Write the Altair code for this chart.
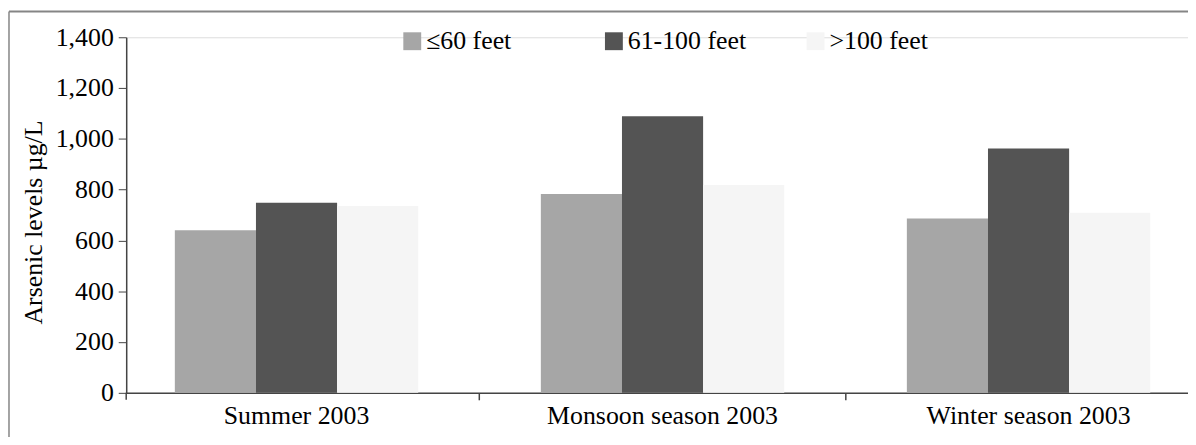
import altair as alt
import pandas as pd

seasons = ["Summer 2003", "Monsoon season 2003", "Winter season 2003"]
depths = ["≤60 feet", "61-100 feet", ">100 feet"]
shallow = [640, 783, 686]
middle = [748, 1089, 962]
deep = [736, 818, 709]
colors = ["#a6a6a6", "#545454", "#f5f5f5"]
y_ticks = [0, 200, 400, 600, 800, 1000, 1200, 1400]

rows = []
for i, s in enumerate(seasons):
    for d, vals in zip(depths, [shallow, middle, deep]):
        rows.append({"season": s, "depth": d, "value": vals[i]})
df = pd.DataFrame(rows)

W, H = 1069, 358
FONT = "Liberation Serif"

xscale = alt.Scale(domain=seasons, paddingInner=0.335, paddingOuter=0.118, align=0.563)

bars = alt.Chart(df).mark_bar(strokeWidth=0).encode(
    x=alt.X(
        "season:N", scale=xscale, sort=seasons,
        axis=alt.Axis(title=None, orient="bottom", ticks=False, tickSize=0, labelPadding=10,
                      labelFontSize=26, labelColor="black", labelFont=FONT, labelLimit=500,
                      domainColor="#444444", domainWidth=1.5, labelAngle=0),
    ),
    xOffset=alt.XOffset("depth:N", sort=depths,
                        scale=alt.Scale(domain=depths, paddingInner=0, paddingOuter=0)),
    y=alt.Y(
        "value:Q", scale=alt.Scale(domain=[0, 1400], nice=False),
        axis=alt.Axis(title="Arsenic levels µg/L", values=y_ticks, format=",.0f",
                      labelFontSize=26, labelColor="black", labelFont=FONT,
                      tickSize=8, tickColor="#444444", labelPadding=5,
                      domainColor="#444444", domainWidth=1.5, grid=False,
                      titleFontSize=26, titleFont=FONT, titleFontWeight="normal",
                      titleColor="black", titlePadding=9, titleY=H / 2 + 7),
    ),
    color=alt.Color(
        "depth:N", sort=depths, scale=alt.Scale(domain=depths, range=colors),
        legend=alt.Legend(title=None, orient="none", direction="horizontal",
                          legendX=275, legendY=-9, symbolType="square",
                          symbolSize=324, symbolStrokeWidth=0, labelFontSize=26,
                          labelFont=FONT, labelColor="black", labelOffset=1,
                          columnPadding=56, gridAlign="all", padding=0),
    ),
)

tick_axis = alt.Chart(df).mark_point(opacity=0).encode(
    x=alt.X(
        "season:N", scale=xscale, sort=seasons,
        axis=alt.Axis(title=None, orient="bottom", values=seasons[1:], labels=False,
                      domain=False, ticks=True, tickSize=7, tickColor="#444444",
                      tickWidth=1.5, bandPosition=-0.252),
    ),
    y=alt.value(0),
)

frame_data = alt.Data(values=[{"k": 1}])
origin_tick = alt.Chart(frame_data).mark_rule(color="#444444", strokeWidth=1.5).encode(
    x=alt.value(0), y=alt.value(H), y2=alt.value(H + 7)
)
frame_top = alt.Chart(frame_data).mark_rule(color="#858585", strokeWidth=2).encode(
    x=alt.value(-118), x2=alt.value(W), y=alt.value(-26)
)
frame_left = alt.Chart(frame_data).mark_rule(color="#858585", strokeWidth=1.5).encode(
    x=alt.value(-118), y=alt.value(-26), y2=alt.value(H + 60)
)

chart = alt.layer(bars, tick_axis, origin_tick, frame_top, frame_left).resolve_axis(
    x="independent"
).properties(
    width=W, height=H,
    padding={"left": 119, "top": 28, "right": 0, "bottom": 43},
    autosize=alt.AutoSizeParams(type="none"),
).configure_view(stroke=None).configure(font=FONT).configure_legend(
    labelFont=FONT, labelFontSize=26, labelColor="black"
)

chart.save("out.html", embed_options={"renderer": "svg", "actions": False})
